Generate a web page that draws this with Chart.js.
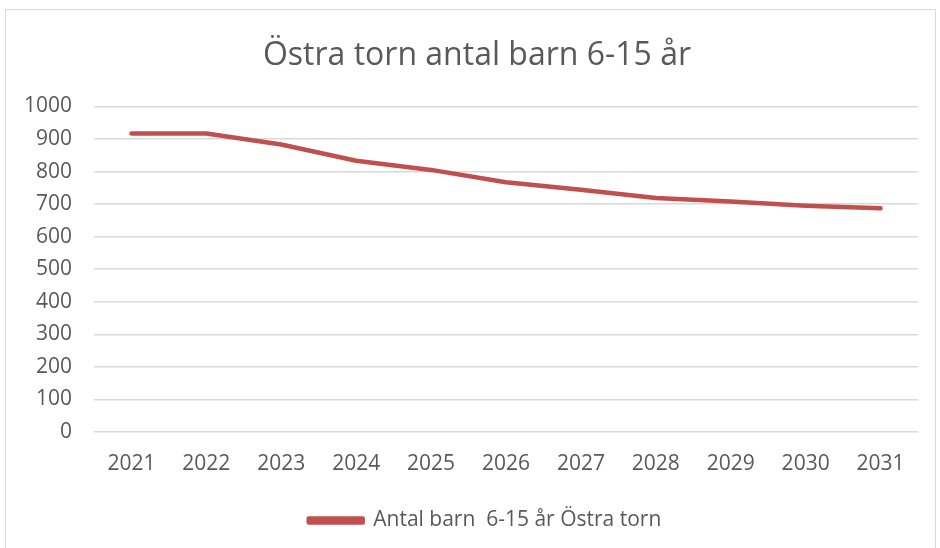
<!DOCTYPE html>
<html>
<head>
<meta charset="utf-8">
<script src="https://cdn.jsdelivr.net/npm/chart.js"></script>
<style>
  html, body { margin: 0; padding: 0; background: #fff; }
  #wrap { position: absolute; left: 0; top: 0; width: 940px; height: 548px; }
  #frame { position: absolute; left: 5px; top: 9px; width: 929px; height: 545px; border: 1px solid #d9d9d9; }
</style>
</head>
<body>
<div id="wrap">
  <div id="frame"></div>
  <canvas id="chart" width="940" height="548"></canvas>
</div>
<script>
const years = ['2021', '2022', '2023', '2024', '2025', '2026', '2027', '2028', '2029', '2030', '2031'];
const barnValues = [917, 917, 883, 833, 805, 767, 744, 719, 708, 695, 687];
const seriesName = 'Antal barn  6-15 år Östra torn';
const titleText = 'Östra torn antal barn 6-15 år';

const textColor = '#595959';
const lineColor = '#C0504D';
const fontFamily = '"Open Sans", "Liberation Sans", sans-serif';

// title and legend sit a bit right of centre in the original
const nudgeBoxes = {
  id: 'nudgeBoxes',
  afterLayout(chart) {
    const t = chart.titleBlock;
    const l = chart.legend;
    if (t) { t.left += 18; t.right += 18; }
    if (l) { l.left += 26; l.right += 26; }
  },
};

const ctx = document.getElementById('chart');

new Chart(ctx, {
  type: 'line',
  data: {
    labels: years,
    datasets: [
      {
        label: seriesName,
        data: barnValues,
        borderColor: lineColor,
        backgroundColor: lineColor,
        borderWidth: 4.5,
        borderCapStyle: 'round',
        borderJoinStyle: 'round',
        pointRadius: 0,
        tension: 0,
      },
    ],
  },
  options: {
    responsive: false,
    animation: false,
    layout: {
      padding: { left: 0, right: 22, top: 0, bottom: 7 },
    },
    plugins: {
      title: {
        display: true,
        text: titleText,
        color: textColor,
        font: { family: fontFamily, size: 32, weight: 'normal' },
        padding: { top: 37, bottom: 31 },
      },
      legend: {
        position: 'bottom',
        labels: {
          color: textColor,
          font: { family: fontFamily, size: 21 },
          boxWidth: 54,
          boxHeight: 4,
          padding: 10,
        },
      },
      tooltip: { enabled: false },
    },
    scales: {
      x: {
        offset: true,
        grid: { display: false },
        border: { display: false },
        ticks: {
          color: textColor,
          font: { family: fontFamily, size: 21 },
          padding: 11,
          maxRotation: 0,
        },
        afterFit: (scale) => {
          scale.height = 68;
        },
      },
      y: {
        min: 0,
        max: 1000,
        grid: { color: '#d9d9d9', lineWidth: 1.5, drawTicks: false },
        border: { display: false },
        ticks: {
          stepSize: 100,
          color: textColor,
          font: { family: fontFamily, size: 21 },
          padding: 22,
          callback: (v) => String(v),
        },
        afterFit: (scale) => {
          scale.width = 94;
        },
      },
    },
  },
  plugins: [nudgeBoxes],
});
</script>
</body>
</html>
